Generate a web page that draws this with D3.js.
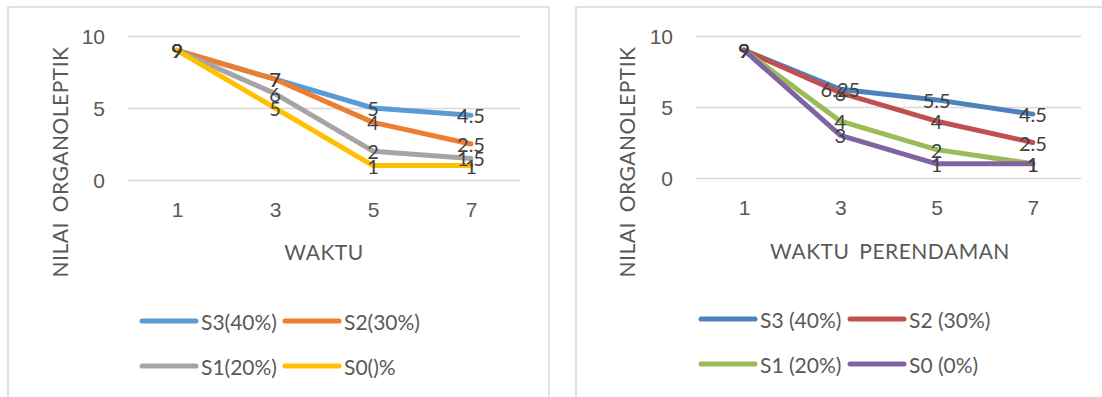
<!DOCTYPE html>
<html>
<head>
<meta charset="utf-8">
<script src="https://cdn.jsdelivr.net/npm/d3@7"></script>
<style>
  body { margin: 0; background: #fff; }
  svg { display: block; font-family: Lato, "Liberation Sans", sans-serif; }
</style>
</head>
<body>
<svg class="chart" width="1102" height="397"></svg>
<script>
var categories = [1, 3, 5, 7];
var yTicks = [0, 5, 10];

var leftNames = ["S3(40%)", "S2(30%)", "S1(20%)", "S0()%"];
var leftS3 = [9, 7, 5, 4.5];
var leftS2 = [9, 7, 4, 2.5];
var leftS1 = [9, 6, 2, 1.5];
var leftS0 = [9, 5, 1, 1];
var leftColors = ["#5B9BD5", "#ED7D31", "#A5A5A5", "#FFC000"];

var rightNames = ["S3 (40%)", "S2 (30%)", "S1 (20%)", "S0 (0%)"];
var rightS3 = [9, 6.25, 5.5, 4.5];
var rightS2 = [9, 6, 4, 2.5];
var rightS1 = [9, 4, 2, 1];
var rightS0 = [9, 3, 1, 1];
var rightColors = ["#4F81BD", "#C0504D", "#9BBB59", "#8064A2"];

var svg = d3.select(".chart");

function desenha(cfg){
	var series = cfg.values.map(function(v, i){
		return { name: cfg.names[i], values: v, color: cfg.colors[i] };
	});

	// chart frame
	svg.append("rect")
		.attr("x", cfg.frameX).attr("y", 7)
		.attr("width", cfg.frameW).attr("height", 420)
		.attr("fill", "none")
		.attr("stroke", "#D9D9D9")
		.attr("stroke-width", 1.5);

	var x = d3.scalePoint()
		.domain(categories)
		.range([cfg.left, cfg.right])
		.padding(0.5);

	var y = d3.scaleLinear()
		.domain([0, 10])
		.range([cfg.bottom, cfg.top]);

	// gridlines + y tick labels
	var gy = svg.append("g")
		.attr("transform", "translate(" + cfg.left + ",0)")
		.call(d3.axisLeft(y).tickValues(yTicks).tickSize(-(cfg.right - cfg.left)).tickPadding(23));
	gy.select(".domain").remove();
	gy.selectAll("line").attr("stroke", "#D9D9D9").attr("stroke-width", 1.5);
	gy.selectAll("text").attr("fill", "#595959").style("font-size", "21px").attr("dy", "0.35em");

	// x tick labels
	var gx = svg.append("g")
		.attr("transform", "translate(0," + cfg.bottom + ")")
		.call(d3.axisBottom(x).tickSize(0).tickPadding(cfg.tickPad));
	gx.select(".domain").remove();
	gx.selectAll("text").attr("fill", "#595959").style("font-size", "21px");

	// axis titles
	svg.append("text")
		.attr("x", cfg.xTitleX).attr("y", cfg.xTitleY)
		.attr("text-anchor", "middle")
		.attr("dominant-baseline", "central")
		.attr("fill", "#595959")
		.style("font-size", "21px")
		.style("letter-spacing", "0.5px")
		.style("word-spacing", "4px")
		.text(cfg.xTitle);

	svg.append("text")
		.attr("transform", "translate(" + cfg.yTitleX + ",162) rotate(-90)")
		.attr("text-anchor", "middle")
		.attr("dominant-baseline", "central")
		.attr("fill", "#595959")
		.style("font-size", "21px")
		.style("letter-spacing", "0.5px")
		.style("word-spacing", "4px")
		.text("NILAI ORGANOLEPTIK");

	var line = d3.line()
		.x(function(d, i){ return x(categories[i]); })
		.y(function(d){ return y(d); });

	svg.append("g").selectAll("path")
		.data(series)
		.enter().append("path")
		.attr("d", function(s){ return line(s.values); })
		.attr("fill", "none")
		.attr("stroke", function(s){ return s.color; })
		.attr("stroke-width", 5)
		.attr("stroke-linejoin", "round")
		.attr("stroke-linecap", "round");

	// data labels
	series.forEach(function(s){
		svg.append("g").selectAll("text")
			.data(s.values)
			.enter().append("text")
			.attr("x", function(d, i){ return x(categories[i]); })
			.attr("y", function(d){ return y(d); })
			.attr("text-anchor", "middle")
			.attr("dominant-baseline", "central")
			.attr("fill", "#404040")
			.style("font-size", "20px")
			.text(function(d){ return d; });
	});

	// legend
	var leg = svg.append("g").selectAll("g")
		.data(series)
		.enter().append("g")
		.attr("transform", function(s, i){
			return "translate(" + cfg.legCols[i % 2] + "," + cfg.legRows[Math.floor(i / 2)] + ")";
		});
	leg.append("line")
		.attr("x1", 0).attr("x2", 54)
		.attr("stroke", function(s){ return s.color; })
		.attr("stroke-width", 5)
		.attr("stroke-linecap", "round");
	leg.append("text")
		.attr("x", 59)
		.attr("dominant-baseline", "central")
		.attr("fill", "#595959")
		.style("font-size", "21px")
		.text(function(s){ return s.name; });
}

desenha({
	names: leftNames, colors: leftColors,
	values: [leftS3, leftS2, leftS1, leftS0],
	frameX: 8, frameW: 541,
	left: 128, right: 520, top: 36, bottom: 180, tickPad: 22,
	xTitle: "WAKTU", xTitleX: 324, xTitleY: 251, yTitleX: 59,
	legCols: [142, 285], legRows: [321, 366]
});

desenha({
	names: rightNames, colors: rightColors,
	values: [rightS3, rightS2, rightS1, rightS0],
	frameX: 576, frameW: 540,
	left: 696, right: 1081, top: 36, bottom: 178, tickPad: 22,
	xTitle: "WAKTU  PERENDAMAN", xTitleX: 890, xTitleY: 250, yTitleX: 626,
	legCols: [701, 850], legRows: [319, 364]
});
</script>
</body>
</html>
